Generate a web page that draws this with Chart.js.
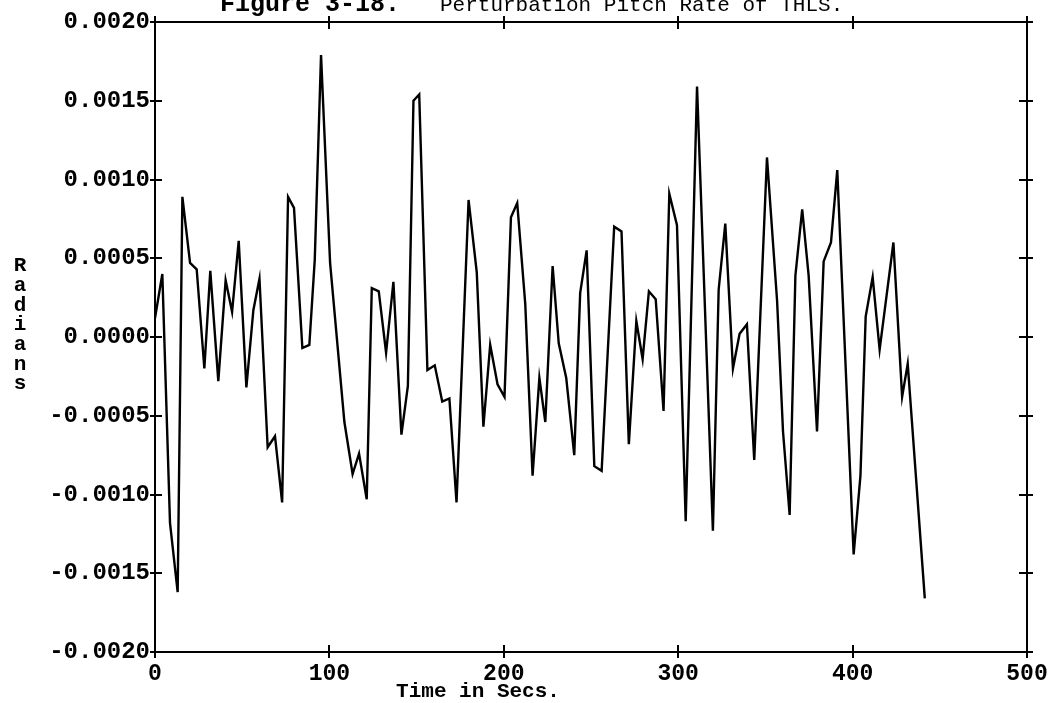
<!DOCTYPE html>
<html>
<head>
<meta charset="utf-8">
<title>Perturbation Pitch Rate</title>
<script src="https://cdn.jsdelivr.net/npm/chart.js@4.4.1/dist/chart.umd.min.js"></script>
<style>
  html, body { margin: 0; padding: 0; background: #fff; }
  #wrap { width: 1059px; height: 703px; }
</style>
</head>
<body>
<div id="wrap"><canvas id="pitch-chart" width="1059" height="703"></canvas></div>
<script>
/* ---------- DATA ---------- */
// time stamps (secs) of each sample
const times = [
  0, 4.2, 8.6, 13.0, 15.7, 20.1, 23.9, 28.3, 31.7, 36.3,
  40.5, 44.2, 48.0, 52.4, 56.4, 59.9, 64.6, 68.8, 72.9, 76.3,
  79.7, 84.5, 88.5, 91.6, 95.2, 100.4, 108.6, 113.3, 117.0, 121.4,
  124.3, 128.3, 132.5, 136.7, 141.3, 145.0, 148.2, 151.5, 156.2, 160.4,
  164.7, 168.8, 172.9, 179.8, 184.5, 188.3, 192.2, 196.4, 200.4, 204.1,
  207.7, 212.3, 216.5, 220.4, 223.8, 228.0, 231.5, 235.8, 240.4, 243.8,
  247.5, 251.9, 256.1, 263.3, 267.5, 271.7, 276.0, 279.6, 283.2, 287.1,
  291.6, 294.9, 299.3, 304.3, 310.8, 319.9, 323.2, 327.0, 331.4, 335.2,
  339.4, 343.6, 350.9, 356.7, 360.1, 363.9, 367.2, 371.1, 374.8, 379.6,
  383.4, 387.6, 391.2, 400.6, 404.5, 407.5, 411.5, 415.5, 423.4, 428.4,
  431.6, 441.4
];

// pitch rate perturbation (radians)
const pitchRate = [
  0.00012, 0.00040, -0.00118, -0.00162, 0.00089, 0.00047, 0.00043, -0.00020, 0.00042, -0.00028,
  0.00036, 0.00016, 0.00061, -0.00032, 0.00017, 0.00037, -0.00070, -0.00063, -0.00105, 0.00089,
  0.00082, -0.00007, -0.00005, 0.00049, 0.00179, 0.00047, -0.00054, -0.00087, -0.00074, -0.00103,
  0.00031, 0.00029, -0.00010, 0.00035, -0.00062, -0.00031, 0.00150, 0.00154, -0.00021, -0.00018,
  -0.00041, -0.00039, -0.00105, 0.00087, 0.00041, -0.00057, -0.00005, -0.00030, -0.00038, 0.00076,
  0.00085, 0.00021, -0.00088, -0.00026, -0.00054, 0.00045, -0.00004, -0.00026, -0.00075, 0.00028,
  0.00055, -0.00082, -0.00085, 0.00070, 0.00067, -0.00068, 0.00010, -0.00014, 0.00029, 0.00024,
  -0.00047, 0.00091, 0.00071, -0.00117, 0.00159, -0.00123, 0.00030, 0.00072, -0.00020, 0.00002,
  0.00008, -0.00078, 0.00114, 0.00023, -0.00060, -0.00113, 0.00039, 0.00081, 0.00039, -0.00060,
  0.00048, 0.00060, 0.00106, -0.00138, -0.00088, 0.00013, 0.00038, -0.00008, 0.00060, -0.00038,
  -0.00017, -0.00166
];

const xTicks = [0, 100, 200, 300, 400, 500];
const yTicks = [-0.0020, -0.0015, -0.0010, -0.0005, 0.0000, 0.0005, 0.0010, 0.0015, 0.0020];

const titleBold = 'Figure 3-18.';
const titleText = 'Perturbation Pitch Rate of THLS.';
const xTitle = 'Time in Secs.';
const yTitle = 'Radians';

/* ---------- FONTS ---------- */
const MONO = "'Liberation Mono', 'DejaVu Sans Mono', monospace";

/* ---------- FRAME, TICKS & LABELS ---------- */
const framePlugin = {
  id: 'frame',
  afterDraw(chart) {
    const { ctx, chartArea: a, scales } = chart;
    ctx.save();
    ctx.strokeStyle = '#000';
    ctx.lineWidth = 2;
    ctx.strokeRect(a.left, a.top, a.right - a.left, a.bottom - a.top);

    // tick marks crossing the frame on all four sides
    ctx.beginPath();
    xTicks.forEach(v => {
      const px = Math.round(scales.x.getPixelForValue(v));
      ctx.moveTo(px, a.bottom - 7); ctx.lineTo(px, a.bottom + 6);
      ctx.moveTo(px, a.top - 6); ctx.lineTo(px, a.top + 7);
    });
    yTicks.forEach(v => {
      const py = Math.round(scales.y.getPixelForValue(v));
      ctx.moveTo(a.left - 5, py); ctx.lineTo(a.left + 7, py);
      ctx.moveTo(a.right - 8, py); ctx.lineTo(a.right + 6, py);
    });
    ctx.stroke();

    ctx.fillStyle = '#000';
    ctx.textAlign = 'center';
    ctx.textBaseline = 'alphabetic';

    // x axis title
    ctx.font = `bold 21px ${MONO}`;
    ctx.fillText(xTitle, 478, 697);

    // y axis title, one letter per line
    ctx.font = `bold 21px ${MONO}`;
    ctx.textBaseline = 'middle';
    yTitle.split('').forEach((ch, i) => {
      ctx.fillText(ch, 20, 266 + i * 19.7);
    });

    // title, sitting at the very top edge
    ctx.textBaseline = 'alphabetic';
    ctx.textAlign = 'left';
    ctx.font = `bold 25px ${MONO}`;
    ctx.fillText(titleBold, 220, 11);
    ctx.font = `21px ${MONO}`;
    ctx.fillText(titleText, 440, 11);
    ctx.restore();
  }
};

/* ---------- CHART ---------- */
const points = times.map((t, i) => ({ x: t, y: pitchRate[i] }));

new Chart(document.getElementById('pitch-chart'), {
  type: 'line',
  data: {
    datasets: [{
      data: points,
      borderColor: '#000',
      borderWidth: 2.4,
      pointRadius: 0,
      tension: 0,
      fill: false
    }]
  },
  options: {
    responsive: false,
    animation: false,
    layout: { padding: { top: 22, right: 32, left: 0, bottom: 0 } },
    plugins: { legend: { display: false }, tooltip: { enabled: false } },
    scales: {
      x: {
        type: 'linear',
        min: 0, max: 500,
        afterBuildTicks: s => { s.ticks = xTicks.map(v => ({ value: v })); },
        afterFit: s => { s.height = 51; },
        grid: { display: false, drawTicks: false },
        border: { display: false },
        ticks: {
          color: '#000', padding: 8,
          font: { family: MONO, size: 23, weight: 'bold' },
          callback: v => String(v)
        }
      },
      y: {
        type: 'linear',
        min: -0.002, max: 0.002,
        afterBuildTicks: s => { s.ticks = yTicks.map(v => ({ value: v })); },
        afterFit: s => { s.width = 155; },
        grid: { display: false, drawTicks: false },
        border: { display: false },
        ticks: {
          color: '#000', padding: 5,
          font: { family: MONO, size: 24, weight: 'bold' },
          callback: v => (Math.abs(v) < 1e-9 ? 0 : v).toFixed(4)
        }
      }
    }
  },
  plugins: [framePlugin]
});
</script>
</body>
</html>
